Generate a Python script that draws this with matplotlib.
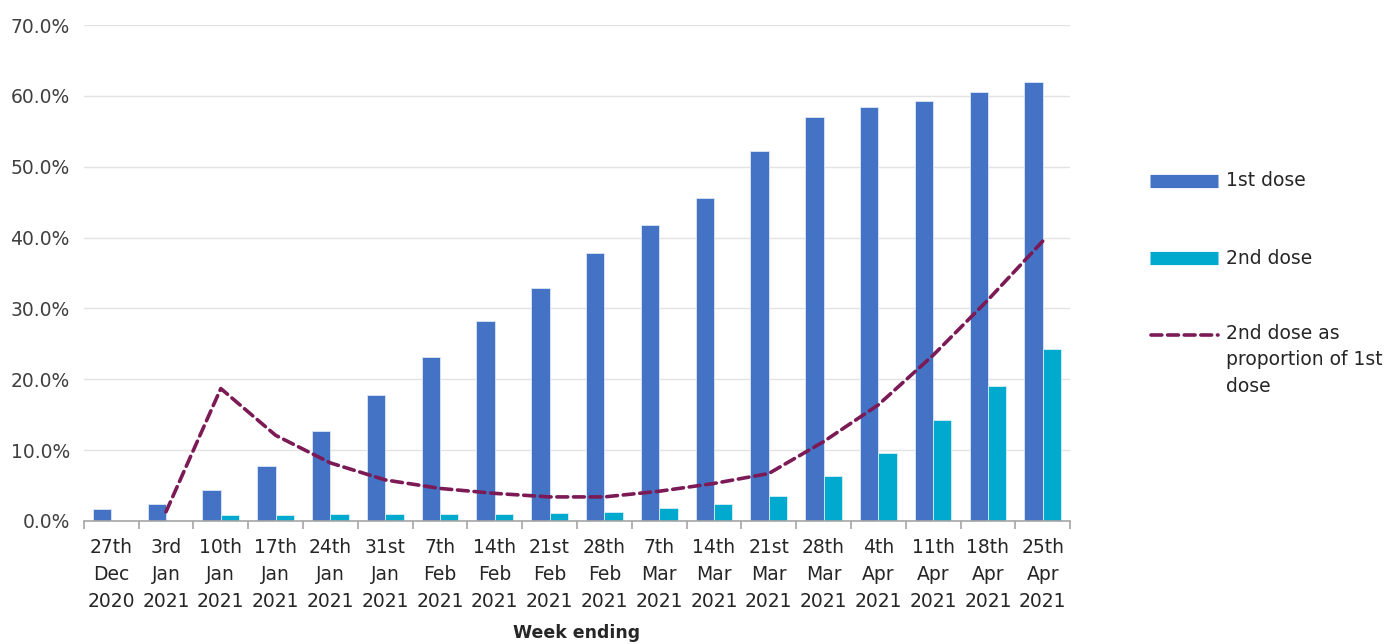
import matplotlib
matplotlib.use("Agg")
import matplotlib.pyplot as plt
from matplotlib.lines import Line2D
from matplotlib.ticker import FuncFormatter, MultipleLocator, FixedLocator

plt.rcParams['font.family'] = ['DejaVu Sans']

weeks = ["27th\nDec\n2020", "3rd\nJan\n2021", "10th\nJan\n2021", "17th\nJan\n2021",
         "24th\nJan\n2021", "31st\nJan\n2021", "7th\nFeb\n2021", "14th\nFeb\n2021",
         "21st\nFeb\n2021", "28th\nFeb\n2021", "7th\nMar\n2021", "14th\nMar\n2021",
         "21st\nMar\n2021", "28th\nMar\n2021", "4th\nApr\n2021", "11th\nApr\n2021",
         "18th\nApr\n2021", "25th\nApr\n2021"]
first_dose = [1.65, 2.35, 4.35, 7.8, 12.7, 17.8, 23.1, 28.2, 32.9, 37.8,
              41.8, 45.6, 52.2, 57.0, 58.4, 59.3, 60.5, 62.0]
second_dose = [0.0, 0.03, 0.8, 0.9, 0.95, 0.95, 1.0, 1.0, 1.1, 1.25,
               1.8, 2.4, 3.5, 6.4, 9.6, 14.2, 19.1, 24.3]
ratio = [None, 1.3, 18.7, 12.1, 8.2, 5.8, 4.6, 3.9, 3.4, 3.4,
         4.2, 5.3, 6.7, 11.2, 16.4, 23.4, 31.2, 39.5]

labels = ["1st dose", "2nd dose", "2nd dose as\nproportion of 1st\ndose"]
c1, c2, c3 = "#4472C4", "#00A9CE", "#7B1A55"
txt = "#262626"
fs = 13.5

fig = plt.figure(figsize=(13.97, 6.44), dpi=100)
ax = fig.add_axes([0.060, 0.191, 0.706, 0.770])

x = list(range(len(weeks)))
w = 0.335
ax.bar([i - w / 2 for i in x], first_dose, width=w, color=c1, edgecolor="#dce6f5", linewidth=0.6, zorder=2)
ax.bar([i + w / 2 for i in x], second_dose, width=w, color=c2, edgecolor="#d5f0f6", linewidth=0.6, zorder=2)

lx = [i for i, v in zip(x, ratio) if v is not None]
ly = [v for v in ratio if v is not None]
ax.plot(lx, ly, color=c3, linewidth=2.6, linestyle=(0, (3, 1.6)),
        dash_capstyle="round", solid_joinstyle="round", dash_joinstyle="round", zorder=3)

ax.set_xlim(-0.5, len(weeks) - 0.5)
ax.set_ylim(0, 70)
ax.yaxis.set_major_locator(MultipleLocator(10))
ax.yaxis.set_major_formatter(FuncFormatter(lambda v, p: f"{v:.1f}%"))
ax.grid(axis="y", color="#e3e3e3", linewidth=1.0, zorder=0)
ax.set_axisbelow(True)
for s in ["left", "right", "top"]:
    ax.spines[s].set_visible(False)
ax.spines["bottom"].set_color("#a6a6a6")
ax.spines["bottom"].set_linewidth(1.2)
ax.tick_params(axis="y", length=0, pad=10, labelsize=fs, labelcolor="#404040")

ax.set_xticks(x)
ax.set_xticklabels(weeks, fontsize=fs, color=txt, linespacing=1.55)
ax.tick_params(axis="x", which="major", length=0, pad=12)
ax.xaxis.set_minor_locator(FixedLocator([i - 0.5 for i in range(len(weeks) + 1)]))
ax.tick_params(axis="x", which="minor", length=6, width=1.2, color="#a6a6a6")

ax.set_xlabel("Week ending", fontsize=12.5, fontweight="bold", color=txt, labelpad=9)

# legend
fig.add_artist(Line2D([1150 / 1397, 1218 / 1397], [1 - 181 / 644] * 2, color=c1, linewidth=9.5, solid_capstyle="butt"))
fig.add_artist(Line2D([1150 / 1397, 1218 / 1397], [1 - 258 / 644] * 2, color=c2, linewidth=9.5, solid_capstyle="butt"))
fig.add_artist(Line2D([1151 / 1397, 1218 / 1397], [1 - 335 / 644] * 2, color=c3, linewidth=2.6,
                      linestyle=(0, (3, 1.6)), dash_capstyle="round"))
fig.text(1226 / 1397, 1 - 181 / 644, labels[0], fontsize=fs, color=txt, va="center", ha="left")
fig.text(1226 / 1397, 1 - 258 / 644, labels[1], fontsize=fs, color=txt, va="center", ha="left")
fig.text(1226 / 1397, 1 - 324 / 644, labels[2], fontsize=fs, color=txt, va="top", ha="left", linespacing=1.5)

fig.savefig("out.png", dpi=100)
